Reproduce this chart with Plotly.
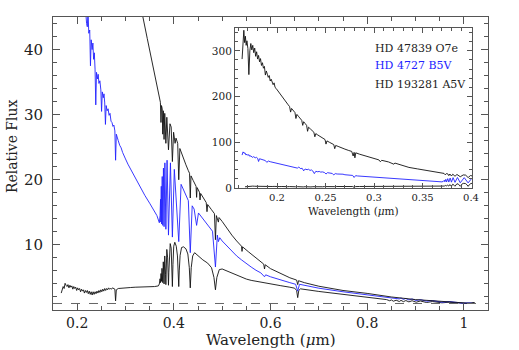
import plotly.graph_objects as go

# ---- data: (wavelength [um], relative flux) ----
O7E_SPEC = [
    (0.1640, 282), (0.1650, 330), (0.1658, 345), (0.1666, 318), (0.1674, 332), (0.1682, 312),
    (0.1690, 322), (0.1700, 305), (0.1710, 248), (0.1720, 300), (0.1730, 316), (0.1740, 302),
    (0.1750, 312), (0.1760, 296), (0.1770, 306), (0.1780, 288), (0.1790, 298), (0.1800, 282),
    (0.1810, 290), (0.1820, 276), (0.1830, 283), (0.1840, 268), (0.1850, 274), (0.1860, 262),
    (0.1870, 266), (0.1880, 247), (0.1890, 256), (0.1900, 249), (0.1910, 242), (0.1920, 246),
    (0.1930, 234), (0.1940, 238), (0.1950, 229), (0.1960, 226), (0.1970, 230), (0.1980, 220),
    (0.1990, 218), (0.2000, 215), (0.2020, 208), (0.2040, 203), (0.2060, 197), (0.2080, 192),
    (0.2100, 186), (0.2115, 182), (0.2130, 178), (0.2140, 166), (0.2150, 174), (0.2170, 169),
    (0.2185, 165), (0.2195, 152), (0.2205, 161), (0.2220, 157), (0.2240, 152), (0.2255, 148),
    (0.2265, 137), (0.2275, 145), (0.2290, 141), (0.2305, 137), (0.2315, 124), (0.2325, 133),
    (0.2345, 129), (0.2365, 125), (0.2380, 122), (0.2390, 112), (0.2400, 119), (0.2420, 116),
    (0.2445, 112), (0.2470, 109), (0.2495, 106), (0.2505, 96), (0.2515, 103), (0.2540, 100),
    (0.2565, 97), (0.2585, 95), (0.2595, 86), (0.2605, 93), (0.2630, 91), (0.2660, 88),
    (0.2700, 85), (0.2740, 82), (0.2770, 80), (0.2785, 70), (0.2795, 78), (0.2803, 66),
    (0.2812, 77), (0.2850, 74), (0.2900, 70.5), (0.2950, 67.5), (0.3000, 64.5), (0.3050, 61.5),
    (0.3065, 57.5), (0.3080, 60.5), (0.3150, 57), (0.3205, 52), (0.3215, 54.5), (0.3300, 48.2),
    (0.3360, 45.0), (0.3450, 41.7), (0.3550, 38.1), (0.3650, 34.5), (0.3700, 32.8), (0.3722, 31.9),
    (0.3734, 28.8), (0.3745, 31.4), (0.3760, 30.9), (0.3771, 27.0), (0.3782, 30.6), (0.3798, 26.2),
    (0.3812, 30.2), (0.3835, 25.6), (0.3855, 29.6), (0.3889, 24.6), (0.3920, 28.6), (0.3945, 28.1),
    (0.3970, 22.8), (0.3995, 27.3), (0.4026, 25.6), (0.4045, 26.4), (0.4080, 25.6), (0.4102, 20.0),
    (0.4125, 24.8), (0.4160, 24.0), (0.4200, 23.2), (0.4250, 22.3), (0.4300, 21.4), (0.4325, 21.0),
    (0.4340, 17.2), (0.4355, 20.6), (0.4400, 19.9), (0.4460, 19.0), (0.4471, 17.3), (0.4482, 18.8),
    (0.4530, 18.1), (0.4542, 16.9), (0.4555, 17.9), (0.4620, 17.1), (0.4670, 16.5), (0.4686, 15.1),
    (0.4700, 16.2), (0.4780, 15.4), (0.4840, 14.8), (0.4861, 10.8), (0.4880, 14.5), (0.4922, 13.5),
    (0.4935, 14.2), (0.5000, 13.6), (0.5100, 12.5), (0.5200, 11.5), (0.5300, 10.6), (0.5400, 9.8),
    (0.5411, 9.0), (0.5422, 9.7), (0.5550, 8.9), (0.5650, 8.3), (0.5750, 7.6), (0.5860, 7.05),
    (0.5876, 6.3), (0.5892, 6.95), (0.6000, 6.35), (0.6200, 5.6), (0.6400, 4.95), (0.6540, 4.6),
    (0.6563, 3.9), (0.6580, 4.5), (0.6700, 4.2), (0.7000, 3.65), (0.7500, 3.0), (0.8000, 2.55),
    (0.8500, 2.0), (0.9000, 1.6), (0.9500, 1.3), (1.0000, 1.07), (1.0150, 1.02), (1.0220, 1.12),
]

B5V_SPEC = [
    (0.1640, 72), (0.1650, 79), (0.1660, 76), (0.1670, 77), (0.1680, 72), (0.1690, 74),
    (0.1700, 71), (0.1710, 73), (0.1720, 69), (0.1730, 70.5), (0.1745, 67), (0.1760, 68.5),
    (0.1775, 66), (0.1790, 67), (0.1800, 65), (0.1810, 58), (0.1820, 64), (0.1840, 63),
    (0.1860, 61.5), (0.1880, 60), (0.1895, 56), (0.1910, 59), (0.1930, 57.5), (0.1950, 56.5),
    (0.1970, 55.5), (0.1990, 55), (0.2010, 53.5), (0.2030, 53), (0.2050, 51.5), (0.2070, 50.5),
    (0.2090, 49.5), (0.2110, 49), (0.2130, 47.5), (0.2150, 47.5), (0.2165, 45.5), (0.2180, 45.5),
    (0.2195, 44.0), (0.2210, 43.5), (0.2225, 46.0), (0.2240, 42.5), (0.2260, 43.0), (0.2275, 37.5),
    (0.2290, 41.5), (0.2310, 40.0), (0.2325, 41.0), (0.2340, 38.5), (0.2355, 39.5), (0.2370, 37.0),
    (0.2385, 31.5), (0.2400, 36.5), (0.2420, 35.5), (0.2435, 36.2), (0.2450, 34.8), (0.2470, 35.2),
    (0.2490, 33.8), (0.2505, 30.5), (0.2520, 33.5), (0.2540, 32.6), (0.2555, 33.2), (0.2570, 31.8),
    (0.2585, 28.5), (0.2600, 31.4), (0.2620, 30.6), (0.2640, 30.9), (0.2660, 29.9), (0.2680, 30.2),
    (0.2700, 29.0), (0.2720, 28.8), (0.2740, 28.2), (0.2760, 28.4), (0.2780, 27.5), (0.2795, 23.0),
    (0.2810, 27.0), (0.2830, 26.3), (0.2850, 26.0), (0.2880, 25.3), (0.2910, 24.9), (0.2940, 24.2),
    (0.2970, 23.8), (0.3000, 23.2), (0.3050, 22.4), (0.3100, 21.7), (0.3150, 21.0), (0.3200, 20.3),
    (0.3300, 18.9), (0.3400, 17.6), (0.3500, 16.4), (0.3600, 15.1), (0.3650, 14.5), (0.3700, 13.4),
    (0.3715, 14.5), (0.3725, 17.0), (0.3730, 13.5), (0.3740, 19.0), (0.3748, 13.2), (0.3760, 20.5),
    (0.3771, 13.0), (0.3785, 21.8), (0.3798, 12.8), (0.3815, 22.6), (0.3835, 12.4), (0.3860, 23.0),
    (0.3889, 11.5), (0.3930, 22.6), (0.3970, 11.2), (0.4010, 21.6), (0.4102, 10.5), (0.4150, 19.3),
    (0.4200, 18.5), (0.4250, 17.6), (0.4300, 16.8), (0.4340, 8.8), (0.4380, 16.0), (0.4420, 15.5),
    (0.4471, 13.0), (0.4510, 14.9), (0.4600, 14.0), (0.4700, 13.0), (0.4800, 12.1), (0.4861, 6.6),
    (0.4900, 11.5), (0.4922, 10.5), (0.4950, 11.1), (0.5000, 10.6), (0.5100, 9.8), (0.5200, 9.0),
    (0.5300, 8.3), (0.5400, 7.7), (0.5500, 7.1), (0.5600, 6.6), (0.5700, 6.1), (0.5800, 5.7),
    (0.5876, 5.1), (0.5900, 5.4), (0.6000, 5.1), (0.6200, 4.6), (0.6400, 4.2), (0.6520, 3.95),
    (0.6563, 2.9), (0.6600, 3.95), (0.7000, 3.35), (0.7500, 2.8), (0.8000, 2.35), (0.8500, 1.95),
    (0.8665, 1.7), (0.8700, 1.85), (0.8750, 1.62), (0.8800, 1.78), (0.8863, 1.55), (0.8930, 1.7),
    (0.9015, 1.45), (0.9100, 1.6), (0.9229, 1.35), (0.9350, 1.45), (0.9546, 1.2), (0.9700, 1.3),
    (0.9980, 1.05), (1.0100, 1.1), (1.0220, 1.0),
]

A5V_SPEC = [
    (0.1670, 2.6), (0.1690, 3.2), (0.1710, 3.6), (0.1730, 3.3), (0.1750, 4.1), (0.1770, 3.8),
    (0.1790, 3.6), (0.1810, 3.9), (0.1830, 3.4), (0.1850, 3.8), (0.1870, 3.5), (0.1890, 3.7),
    (0.1910, 3.2), (0.1930, 3.6), (0.1950, 3.3), (0.1970, 3.5), (0.1990, 3.0), (0.2010, 3.4),
    (0.2030, 3.1), (0.2050, 3.3), (0.2070, 2.8), (0.2090, 3.2), (0.2110, 2.9), (0.2130, 3.1),
    (0.2150, 2.6), (0.2170, 3.0), (0.2190, 2.7), (0.2210, 3.0), (0.2230, 2.5), (0.2250, 2.9),
    (0.2270, 2.4), (0.2290, 2.8), (0.2310, 2.3), (0.2330, 2.8), (0.2350, 2.4), (0.2370, 2.8),
    (0.2390, 2.5), (0.2410, 2.9), (0.2430, 2.6), (0.2450, 3.0), (0.2470, 2.7), (0.2490, 3.1),
    (0.2510, 2.8), (0.2530, 3.2), (0.2550, 2.9), (0.2570, 3.3), (0.2590, 3.0), (0.2610, 3.3),
    (0.2630, 3.1), (0.2650, 3.4), (0.2670, 3.2), (0.2690, 3.3), (0.2710, 3.2), (0.2730, 3.4),
    (0.2750, 3.3), (0.2780, 3.2), (0.2795, 1.4), (0.2810, 3.1), (0.2850, 3.3), (0.2900, 3.35),
    (0.3000, 3.4), (0.3100, 3.45), (0.3200, 3.5), (0.3300, 3.5), (0.3400, 3.55), (0.3500, 3.6),
    (0.3600, 3.6), (0.3680, 3.7), (0.3700, 4.0), (0.3715, 4.8), (0.3725, 4.2), (0.3735, 5.6),
    (0.3745, 4.4), (0.3755, 6.4), (0.3763, 4.5), (0.3771, 4.2), (0.3782, 7.4), (0.3798, 4.0),
    (0.3812, 8.3), (0.3820, 7.5), (0.3828, 5.5), (0.3835, 3.9), (0.3842, 5.8), (0.3855, 9.3),
    (0.3872, 8.0), (0.3882, 5.6), (0.3889, 3.8), (0.3897, 5.8), (0.3910, 9.2), (0.3925, 10.2),
    (0.3945, 9.5), (0.3958, 7.0), (0.3970, 3.6), (0.3982, 7.0), (0.3998, 9.8), (0.4020, 10.4),
    (0.4050, 9.8), (0.4075, 8.3), (0.4092, 6.0), (0.4102, 3.6), (0.4112, 6.0), (0.4130, 8.4),
    (0.4160, 9.6), (0.4200, 9.7), (0.4250, 9.4), (0.4290, 8.6), (0.4320, 6.5), (0.4340, 3.4),
    (0.4360, 6.5), (0.4390, 8.3), (0.4430, 8.8), (0.4500, 8.3), (0.4600, 7.7), (0.4700, 7.2),
    (0.4780, 6.5), (0.4830, 5.0), (0.4861, 3.1), (0.4890, 5.0), (0.4940, 6.2), (0.5000, 6.3),
    (0.5100, 6.0), (0.5200, 5.7), (0.5300, 5.3), (0.5400, 5.0), (0.5500, 4.75), (0.5600, 4.55),
    (0.5700, 4.4), (0.5800, 4.3), (0.5900, 4.15), (0.6000, 4.0), (0.6200, 3.75), (0.6400, 3.5),
    (0.6500, 3.35), (0.6540, 3.0), (0.6563, 1.9), (0.6585, 3.0), (0.6620, 3.25), (0.7000, 2.85),
    (0.7500, 2.4), (0.8000, 1.85), (0.8400, 1.6), (0.8467, 1.42), (0.8500, 1.55), (0.8542, 1.35),
    (0.8600, 1.5), (0.8665, 1.3), (0.8700, 1.48), (0.8750, 1.28), (0.8800, 1.45), (0.8863, 1.25),
    (0.8930, 1.42), (0.9015, 1.2), (0.9100, 1.38), (0.9229, 1.15), (0.9350, 1.3), (0.9546, 1.1),
    (0.9700, 1.2), (1.0049, 1.0), (1.0150, 1.07), (1.0220, 1.15),
]

STAR_LABELS = ["HD 47839 O7e", "HD 4727 B5V", "HD 193281 A5V"]
STAR_COLORS = ["#111111", "#2222ff", "#111111"]
REFERENCE_LEVEL = [1.0]

SERIF = "DejaVu Serif"
FRAME = "#555555"
TEXT = "#222222"

fig = go.Figure()
specs = [A5V_SPEC, B5V_SPEC, O7E_SPEC]
cols = [STAR_COLORS[2], STAR_COLORS[1], STAR_COLORS[0]]
for spec, col in zip(specs, cols):
    wl = [p[0] for p in spec]
    fl = [p[1] for p in spec]
    fig.add_trace(go.Scatter(x=wl, y=fl, mode="lines", line=dict(color=col, width=0.9),
                             xaxis="x", yaxis="y", showlegend=False, hoverinfo="skip"))
    fig.add_trace(go.Scatter(x=wl, y=fl, mode="lines", line=dict(color=col, width=0.9),
                             xaxis="x2", yaxis="y2", showlegend=False, hoverinfo="skip"))

# dashed reference level
fig.add_shape(type="line", xref="paper", yref="y", x0=0, x1=1,
              y0=REFERENCE_LEVEL[0], y1=REFERENCE_LEVEL[0],
              line=dict(color="#666666", width=1, dash="dash"))

axis_common = dict(showline=True, linecolor=FRAME, linewidth=1, mirror="allticks",
                   ticks="inside", tickcolor=FRAME, showgrid=False, zeroline=False)

fig.update_layout(
    width=519, height=350,
    margin=dict(l=53, r=31, t=17, b=40),
    paper_bgcolor="white", plot_bgcolor="white",
    xaxis=dict(domain=[0, 1], range=[0.15, 1.05], tick0=0, dtick=0.2, ticklen=7,
               minor=dict(dtick=0.05, tick0=0, ticklen=4, ticks="inside", tickcolor=FRAME),
               tickfont=dict(family=SERIF, size=14, color=TEXT), **axis_common),
    yaxis=dict(domain=[0, 1], range=[0, 45], tickmode="array", tickvals=[10, 20, 30, 40],
               ticklen=7, ticklabelstandoff=6,
               minor=dict(dtick=2, tick0=0, ticklen=4, ticks="inside", tickcolor=FRAME),
               tickfont=dict(family=SERIF, size=15, color=TEXT), **axis_common),
    xaxis2=dict(domain=[0.4184, 0.9632], anchor="y2", range=[0.1567, 0.401], tick0=0, dtick=0.05,
                ticklen=5, minor=dict(dtick=0.01, tick0=0, ticklen=3, ticks="inside", tickcolor=FRAME),
                tickfont=dict(family=SERIF, size=10, color=TEXT), **axis_common),
    yaxis2=dict(domain=[0.4164, 0.9625], anchor="x2", range=[0, 350], tick0=0, dtick=100,
                ticklen=5, minor=dict(dtick=20, tick0=0, ticklen=3, ticks="inside", tickcolor=FRAME),
                tickfont=dict(family=SERIF, size=10.5, color=TEXT), **axis_common),
)

annos = [
    dict(text="Wavelength (<i>μ</i>m)", x=0.499, y=-0.1024, font=dict(size=15)),
    dict(text="Relative Flux", x=-0.094, y=0.56, textangle=-90, font=dict(size=14)),
    dict(text="Wavelength (<i>μ</i>m)", x=0.690, y=0.338, font=dict(size=10.5)),
]
for a in annos:
    f = a.pop("font")
    fig.add_annotation(xref="paper", yref="paper", showarrow=False, xanchor="center",
                       yanchor="middle", font=dict(family=SERIF, color=TEXT, **f), **a)

for i, (lab, col) in enumerate(zip(STAR_LABELS, STAR_COLORS)):
    fig.add_annotation(xref="paper", yref="paper", x=0.7356, y=[0.894, 0.833, 0.771][i],
                       text=lab, showarrow=False, xanchor="left", yanchor="middle",
                       font=dict(family=SERIF, size=11, color=col if col != "#111111" else TEXT))

fig.write_html("out.html")
